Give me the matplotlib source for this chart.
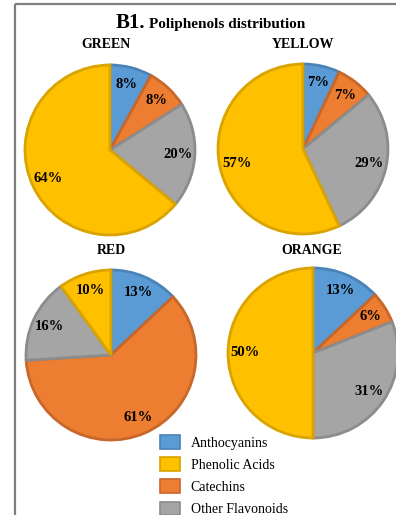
import matplotlib
matplotlib.use("Agg")
import matplotlib.pyplot as plt
from matplotlib.patches import Patch
from matplotlib.lines import Line2D

# Compound classes in wedge order (clockwise from 12 o'clock)
wedge_classes = ["Anthocyanins", "Catechins", "Other Flavonoids", "Phenolic Acids"]
legend_order = ["Anthocyanins", "Phenolic Acids", "Catechins", "Other Flavonoids"]

# Percent share of each class per pepper colour
green = [8, 8, 20, 64]
yellow = [7, 7, 29, 57]
red = [13, 61, 16, 10]
orange = [13, 6, 31, 50]

panel_titles = ["GREEN", "YELLOW", "RED", "ORANGE"]
panel_values = [green, yellow, red, orange]

fill = {
    "Anthocyanins": "#5B9BD5",
    "Catechins": "#ED7D31",
    "Other Flavonoids": "#A5A5A5",
    "Phenolic Acids": "#FFC000",
}
edge = {
    "Anthocyanins": "#4A83B8",
    "Catechins": "#C8672A",
    "Other Flavonoids": "#8C8C8C",
    "Phenolic Acids": "#D9A300",
}

W, H = 396, 515
SERIF = "Liberation Serif"

fig = plt.figure(figsize=(W / 100, H / 100), dpi=100)
fig.patch.set_facecolor("white")

# outer frame (left and top rules only)
fig.add_artist(Line2D([14.5 / W, 14.5 / W], [0, 1 - 4 / H], transform=fig.transFigure,
                      color="#7F7F7F", lw=1.6, solid_capstyle="butt"))
fig.add_artist(Line2D([14.5 / W, 1], [1 - 4 / H, 1 - 4 / H], transform=fig.transFigure,
                      color="#7F7F7F", lw=1.6, solid_capstyle="butt"))

# title
fig.text(116 / W, 1 - 28 / H, "B1.", fontsize=15, fontweight="bold", family=SERIF,
         ha="left", va="baseline")
fig.text(149 / W, 1 - 28 / H, "Poliphenols distribution", fontsize=11, fontweight="bold",
         family=SERIF, ha="left", va="baseline")

# pie centres and radius in pixels
centres = [(110, 150), (303, 149), (111, 355), (313, 353)]
title_pos = [(106, 45), (303, 45), (111, 251), (312, 251)]
R = 85

for (cx, cy), (tx, ty), title, vals in zip(centres, title_pos, panel_titles, panel_values):
    ax = fig.add_axes([(cx - R) / W, 1 - (cy + R) / H, 2 * R / W, 2 * R / H])
    wedges, texts, autotexts = ax.pie(
        vals,
        colors=[fill[c] for c in wedge_classes],
        startangle=90,
        counterclock=False,
        radius=1,
        autopct=lambda p: f"{p:.0f}%",
        pctdistance=0.8,
        wedgeprops=dict(linewidth=2.0),
        textprops=dict(family=SERIF, fontweight="bold", fontsize=10.5, color="black"),
    )
    for w, c in zip(wedges, wedge_classes):
        w.set_edgecolor(edge[c])
        w.set_clip_on(False)
    ax.set_xlim(-1, 1)
    ax.set_ylim(-1, 1)
    ax.set_aspect("equal")
    ax.axis("off")
    fig.text(tx / W, 1 - ty / H, title, fontsize=10, fontweight="bold", family=SERIF,
             ha="center", va="center")

handles = [Patch(facecolor=fill[c], edgecolor=edge[c], linewidth=1.2) for c in legend_order]
fig.legend(handles, legend_order, loc="upper left", bbox_to_anchor=(160 / W, 1 - 435 / H),
           frameon=False, borderpad=0, borderaxespad=0,
           handlelength=1.45, handleheight=1.15, handletextpad=0.75, labelspacing=0.55,
           prop=dict(family=SERIF, size=10))

fig.savefig("out.png", dpi=100, facecolor="white")
